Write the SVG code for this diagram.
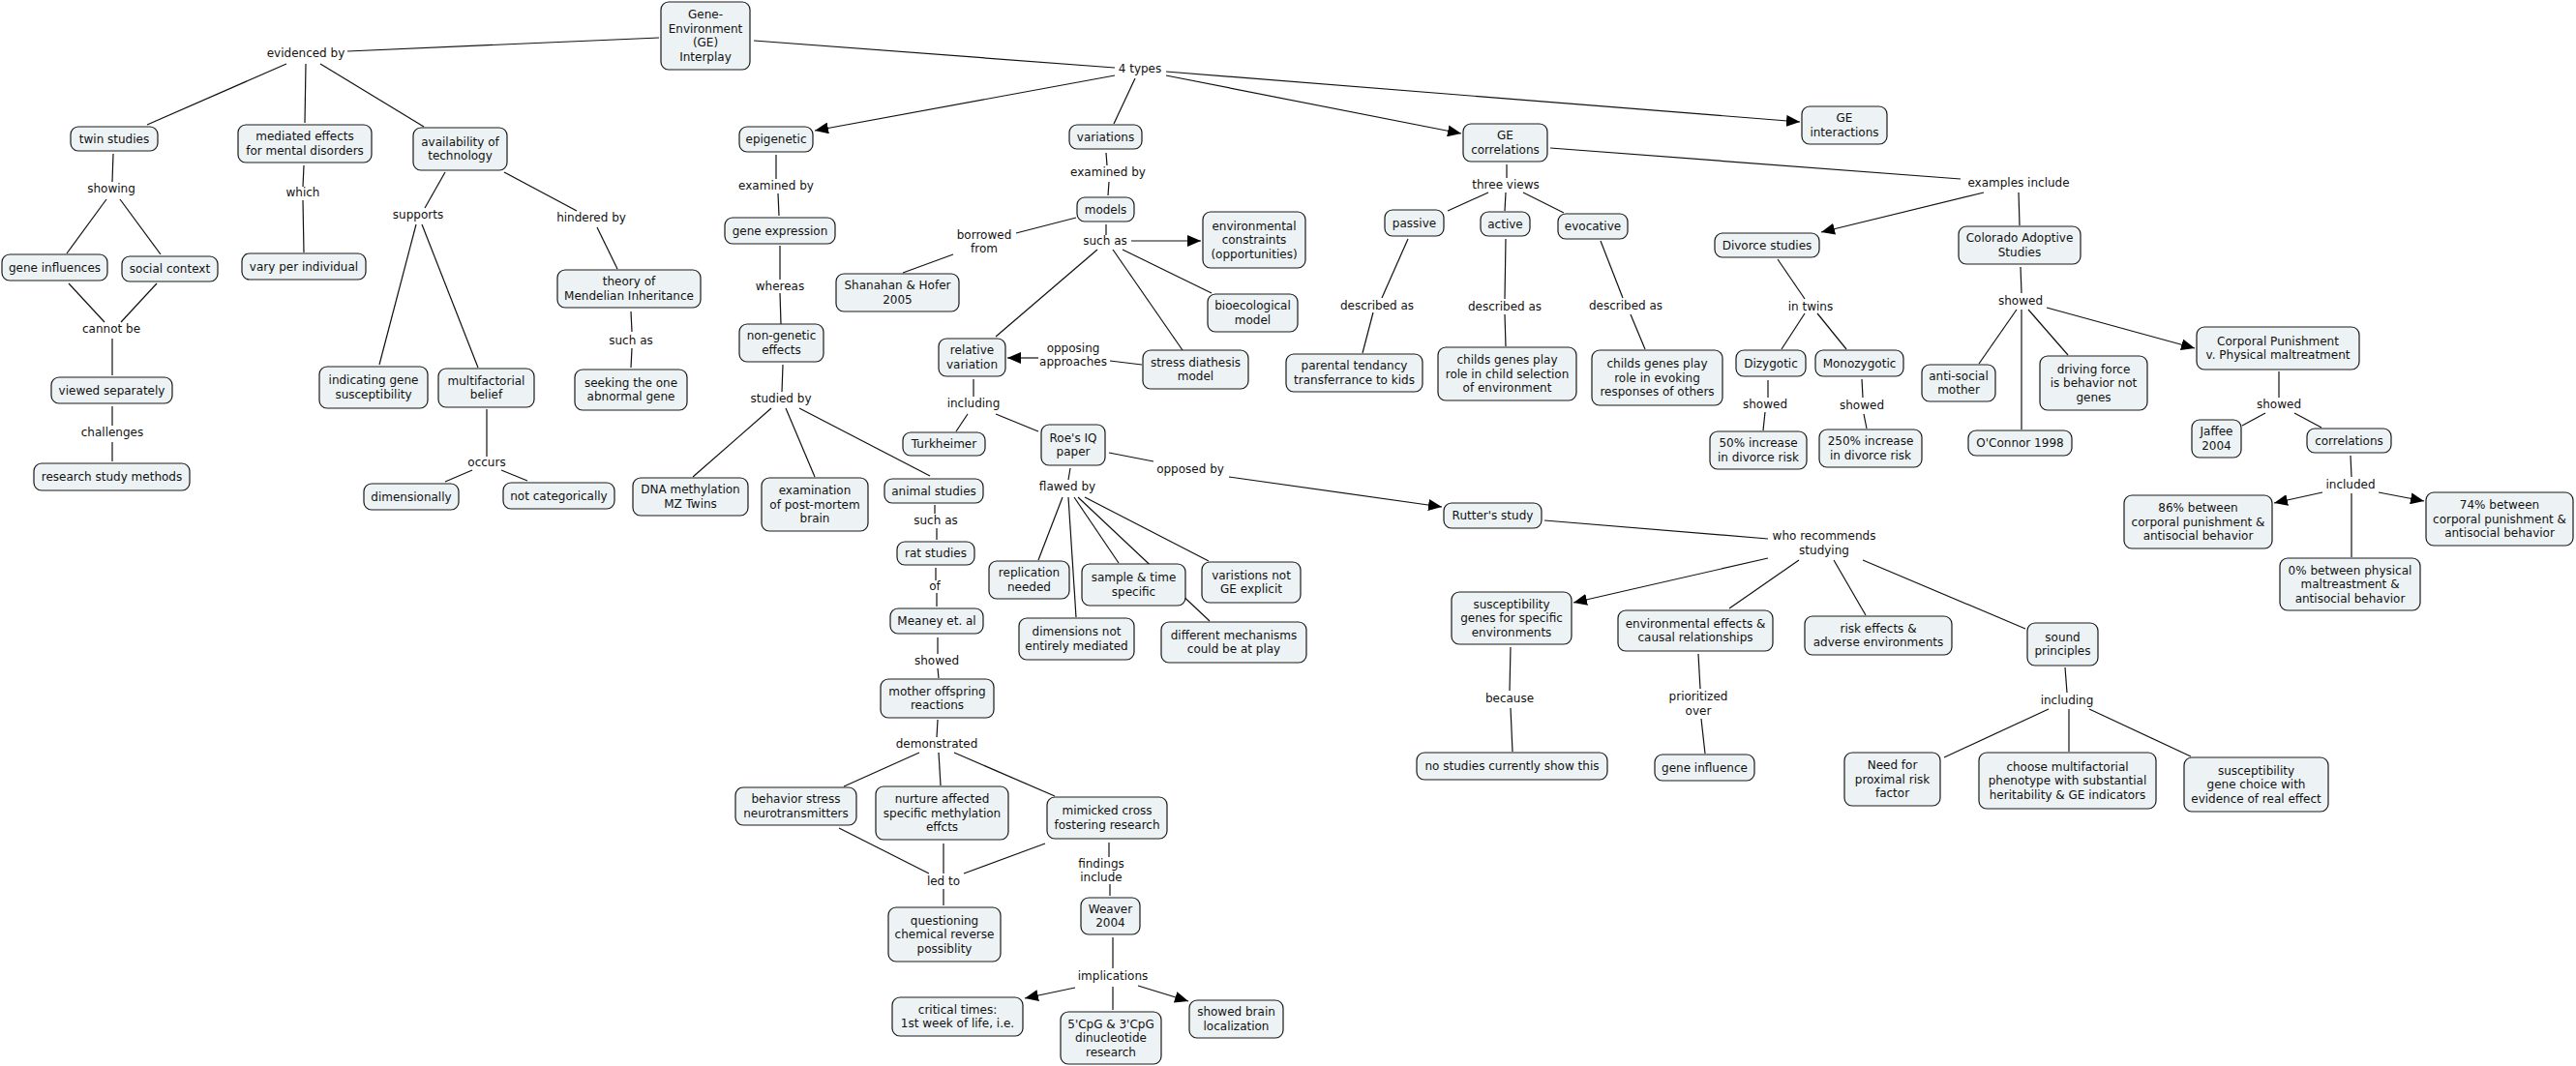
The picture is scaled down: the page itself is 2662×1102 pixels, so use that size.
<svg xmlns="http://www.w3.org/2000/svg" width="2662" height="1102" viewBox="0 0 2662 1102">
<defs>
<style>
.node rect{fill:#edf3f5;stroke:#1a1a1a;stroke-width:1.2}
text{font-family:"DejaVu Sans",Verdana,sans-serif;font-size:12px;fill:#111;text-anchor:middle;dominant-baseline:central}
#connectors line{stroke:#111;stroke-width:1.2;fill:none}
#connectors line.a{marker-end:url(#arr)}
</style>
<marker id="arr" markerUnits="userSpaceOnUse" markerWidth="14" markerHeight="12" viewBox="0 0 14 12" refX="14" refY="6" orient="auto"><path d="M0,0 L14,6 L0,12 z" fill="#000"/></marker>
</defs>
<rect width="2662" height="1102" fill="#fff"/>
<g id="connectors">
<line x1="359" y1="53" x2="681" y2="39"/>
<line x1="779" y1="42" x2="1152" y2="70"/>
<line x1="296" y1="66" x2="152" y2="129"/>
<line x1="316" y1="66" x2="315" y2="127"/>
<line x1="331" y1="66" x2="438" y2="131"/>
<line x1="117" y1="159" x2="116" y2="188"/>
<line x1="110" y1="206" x2="69" y2="262"/>
<line x1="124" y1="206" x2="166" y2="263"/>
<line x1="314" y1="171" x2="313" y2="193"/>
<line x1="313" y1="207" x2="314" y2="261"/>
<line x1="460" y1="178" x2="439" y2="215"/>
<line x1="521" y1="178" x2="596" y2="218"/>
<line x1="617" y1="235" x2="638" y2="278"/>
<line x1="652" y1="322" x2="653" y2="343"/>
<line x1="653" y1="360" x2="652" y2="380"/>
<line x1="71" y1="293" x2="108" y2="333"/>
<line x1="162" y1="293" x2="125" y2="333"/>
<line x1="116" y1="350" x2="116" y2="388"/>
<line x1="116" y1="420" x2="116" y2="440"/>
<line x1="116" y1="457" x2="116" y2="477"/>
<line x1="430" y1="232" x2="392" y2="377"/>
<line x1="436" y1="232" x2="494" y2="380"/>
<line x1="503" y1="423" x2="503" y2="472"/>
<line x1="488" y1="486" x2="460" y2="498"/>
<line x1="518" y1="486" x2="545" y2="497"/>
<line class="a" x1="1152" y1="78" x2="842" y2="135"/>
<line x1="802" y1="160" x2="802" y2="185"/>
<line x1="804" y1="200" x2="805" y2="223"/>
<line x1="806" y1="254" x2="806" y2="289"/>
<line x1="806" y1="303" x2="807" y2="335"/>
<line x1="809" y1="377" x2="808" y2="405"/>
<line x1="797" y1="422" x2="716" y2="493"/>
<line x1="812" y1="422" x2="842" y2="493"/>
<line x1="826" y1="422" x2="961" y2="492"/>
<line x1="966" y1="522" x2="966" y2="531"/>
<line x1="968" y1="546" x2="968" y2="558"/>
<line x1="967" y1="587" x2="967" y2="600"/>
<line x1="968" y1="613" x2="968" y2="627"/>
<line x1="969" y1="659" x2="969" y2="676"/>
<line x1="969" y1="691" x2="970" y2="701"/>
<line x1="969" y1="744" x2="968" y2="762"/>
<line x1="950" y1="778" x2="872" y2="813"/>
<line x1="970" y1="778" x2="972" y2="812"/>
<line x1="986" y1="778" x2="1090" y2="823"/>
<line x1="867" y1="856" x2="960" y2="903"/>
<line x1="975" y1="872" x2="975" y2="903"/>
<line x1="1080" y1="872" x2="996" y2="903"/>
<line x1="975" y1="919" x2="975" y2="936"/>
<line x1="1146" y1="871" x2="1146" y2="886"/>
<line x1="1147" y1="914" x2="1147" y2="926"/>
<line x1="1150" y1="969" x2="1150" y2="1001"/>
<line class="a" x1="1111" y1="1021" x2="1059" y2="1032"/>
<line x1="1150" y1="1020" x2="1150" y2="1044"/>
<line class="a" x1="1176" y1="1019" x2="1228" y2="1035"/>
<line x1="1173" y1="81" x2="1151" y2="128"/>
<line class="a" x1="1205" y1="78" x2="1510" y2="138"/>
<line class="a" x1="1205" y1="74" x2="1860" y2="126"/>
<line x1="1143" y1="158" x2="1144" y2="171"/>
<line x1="1146" y1="188" x2="1145" y2="202"/>
<line x1="1112" y1="225" x2="1050" y2="241"/>
<line x1="985" y1="263" x2="933" y2="282"/>
<line x1="1143" y1="232" x2="1143" y2="243"/>
<line class="a" x1="1169" y1="249" x2="1241" y2="249"/>
<line x1="1160" y1="258" x2="1252" y2="303"/>
<line x1="1134" y1="258" x2="1029" y2="348"/>
<line x1="1150" y1="258" x2="1222" y2="362"/>
<line class="a" x1="1073" y1="370" x2="1041" y2="370"/>
<line x1="1147" y1="373" x2="1180" y2="377"/>
<line x1="1006" y1="392" x2="1006" y2="410"/>
<line x1="1000" y1="428" x2="988" y2="446"/>
<line x1="1029" y1="428" x2="1073" y2="446"/>
<line x1="1146" y1="468" x2="1192" y2="477"/>
<line class="a" x1="1270" y1="493" x2="1490" y2="524"/>
<line x1="1106" y1="484" x2="1104" y2="496"/>
<line x1="1098" y1="514" x2="1073" y2="579"/>
<line x1="1104" y1="514" x2="1112" y2="638"/>
<line x1="1110" y1="514" x2="1156" y2="582"/>
<line x1="1114" y1="514" x2="1250" y2="642"/>
<line x1="1121" y1="514" x2="1249" y2="580"/>
<line x1="1596" y1="538" x2="1827" y2="557"/>
<line class="a" x1="1827" y1="577" x2="1626" y2="623"/>
<line x1="1859" y1="579" x2="1787" y2="629"/>
<line x1="1895" y1="579" x2="1928" y2="636"/>
<line x1="1925" y1="579" x2="2093" y2="650"/>
<line x1="1561" y1="669" x2="1560" y2="714"/>
<line x1="1561" y1="732" x2="1563" y2="777"/>
<line x1="1755" y1="676" x2="1757" y2="712"/>
<line x1="1758" y1="743" x2="1762" y2="779"/>
<line x1="2134" y1="690" x2="2136" y2="716"/>
<line x1="2117" y1="733" x2="2009" y2="783"/>
<line x1="2138" y1="733" x2="2138" y2="777"/>
<line x1="2159" y1="733" x2="2264" y2="782"/>
<line x1="1557" y1="170" x2="1557" y2="184"/>
<line x1="1538" y1="199" x2="1496" y2="218"/>
<line x1="1556" y1="199" x2="1555" y2="218"/>
<line x1="1574" y1="199" x2="1616" y2="220"/>
<line x1="1455" y1="247" x2="1428" y2="308"/>
<line x1="1419" y1="323" x2="1408" y2="365"/>
<line x1="1556" y1="247" x2="1555" y2="309"/>
<line x1="1555" y1="325" x2="1556" y2="358"/>
<line x1="1654" y1="249" x2="1677" y2="308"/>
<line x1="1685" y1="325" x2="1700" y2="361"/>
<line x1="1602" y1="153" x2="2026" y2="185"/>
<line class="a" x1="2050" y1="199" x2="1882" y2="240"/>
<line x1="2086" y1="199" x2="2087" y2="233"/>
<line x1="1837" y1="268" x2="1865" y2="309"/>
<line x1="1865" y1="324" x2="1841" y2="361"/>
<line x1="1878" y1="324" x2="1908" y2="361"/>
<line x1="1827" y1="393" x2="1827" y2="411"/>
<line x1="1824" y1="426" x2="1822" y2="445"/>
<line x1="1924" y1="392" x2="1925" y2="411"/>
<line x1="1926" y1="428" x2="1929" y2="443"/>
<line x1="2088" y1="276" x2="2089" y2="303"/>
<line class="a" x1="2115" y1="318" x2="2268" y2="360"/>
<line x1="2084" y1="320" x2="2045" y2="376"/>
<line x1="2089" y1="320" x2="2089" y2="444"/>
<line x1="2096" y1="320" x2="2137" y2="367"/>
<line x1="2355" y1="384" x2="2355" y2="411"/>
<line x1="2341" y1="427" x2="2317" y2="440"/>
<line x1="2371" y1="427" x2="2399" y2="442"/>
<line x1="2429" y1="471" x2="2430" y2="493"/>
<line class="a" x1="2400" y1="509" x2="2350" y2="520"/>
<line class="a" x1="2458" y1="509" x2="2505" y2="518"/>
<line x1="2430" y1="510" x2="2430" y2="576"/>
</g>
<g id="links">
<text x="316" y="55">evidenced by</text>
<text x="115" y="195">showing</text>
<text x="313" y="199">which</text>
<text x="432" y="222">supports</text>
<text x="611" y="225">hindered by</text>
<text x="115" y="340">cannot be</text>
<text x="116" y="447">challenges</text>
<text x="503" y="478">occurs</text>
<text x="652" y="352">such as</text>
<text x="802" y="192">examined by</text>
<text x="806" y="296">whereas</text>
<text x="807" y="412">studied by</text>
<text x="967" y="538">such as</text>
<text x="966" y="606">of</text>
<text x="968" y="683">showed</text>
<text x="968" y="769">demonstrated</text>
<text x="975" y="911">led to</text>
<text x="1138" y="893">findings</text>
<text x="1138" y="907">include</text>
<text x="1150" y="1009">implications</text>
<text x="1178" y="71">4 types</text>
<text x="1145" y="178">examined by</text>
<text x="1017" y="243">borrowed</text>
<text x="1017" y="257">from</text>
<text x="1142" y="249">such as</text>
<text x="1109" y="360">opposing</text>
<text x="1109" y="374">approaches</text>
<text x="1006" y="417">including</text>
<text x="1103" y="503">flawed by</text>
<text x="1230" y="485">opposed by</text>
<text x="1556" y="191">three views</text>
<text x="1423" y="316">described as</text>
<text x="1555" y="317">described as</text>
<text x="1680" y="316">described as</text>
<text x="2086" y="189">examples include</text>
<text x="1871" y="317">in twins</text>
<text x="2088" y="311">showed</text>
<text x="1824" y="418">showed</text>
<text x="1924" y="419">showed</text>
<text x="2355" y="418">showed</text>
<text x="2429" y="501">included</text>
<text x="1885" y="554">who recommends</text>
<text x="1885" y="569">studying</text>
<text x="1560" y="722">because</text>
<text x="1755" y="720">prioritized</text>
<text x="1755" y="735">over</text>
<text x="2136" y="724">including</text>
</g>
<g id="n-ge" class="node"><rect x="683" y="2" width="92" height="70" rx="8"/><text><tspan x="729" y="15">Gene-</tspan><tspan x="729" y="29.5">Environment</tspan><tspan x="729" y="44">(GE)</tspan><tspan x="729" y="58.5">Interplay</tspan></text></g>
<g id="n-twin" class="node"><rect x="73" y="131" width="90" height="25" rx="8"/><text x="118" y="143.5">twin studies</text></g>
<g id="n-mediated" class="node"><rect x="246" y="129" width="138" height="39" rx="8"/><text><tspan x="315" y="141.25">mediated effects</tspan><tspan x="315" y="155.75">for mental disorders</tspan></text></g>
<g id="n-avail" class="node"><rect x="427" y="132" width="97" height="44" rx="8"/><text><tspan x="475.5" y="146.75">availability of</tspan><tspan x="475.5" y="161.25">technology</tspan></text></g>
<g id="n-geneinf" class="node"><rect x="2" y="263" width="109" height="27" rx="8"/><text x="56.5" y="276.5">gene influences</text></g>
<g id="n-social" class="node"><rect x="126" y="265" width="99" height="26" rx="8"/><text x="175.5" y="278">social context</text></g>
<g id="n-vary" class="node"><rect x="250" y="262" width="128" height="27" rx="8"/><text x="314" y="275.5">vary per individual</text></g>
<g id="n-viewed" class="node"><rect x="53" y="390" width="125" height="27" rx="8"/><text x="115.5" y="403.5">viewed separately</text></g>
<g id="n-research" class="node"><rect x="35" y="479" width="161" height="28" rx="8"/><text x="115.5" y="493">research study methods</text></g>
<g id="n-indicating" class="node"><rect x="330" y="379" width="112" height="43" rx="8"/><text><tspan x="386" y="393.25">indicating gene</tspan><tspan x="386" y="407.75">susceptibility</tspan></text></g>
<g id="n-multi" class="node"><rect x="453" y="381" width="99" height="40" rx="8"/><text><tspan x="502.5" y="393.75">multifactorial</tspan><tspan x="502.5" y="408.25">belief</tspan></text></g>
<g id="n-dim" class="node"><rect x="376" y="500" width="98" height="27" rx="8"/><text x="425" y="513.5">dimensionally</text></g>
<g id="n-notcat" class="node"><rect x="520" y="499" width="115" height="27" rx="8"/><text x="577.5" y="512.5">not categorically</text></g>
<g id="n-theory" class="node"><rect x="576" y="279" width="148" height="39" rx="8"/><text><tspan x="650" y="291.25">theory of</tspan><tspan x="650" y="305.75">Mendelian Inheritance</tspan></text></g>
<g id="n-seeking" class="node"><rect x="594" y="382" width="116" height="42" rx="8"/><text><tspan x="652" y="395.75">seeking the one</tspan><tspan x="652" y="410.25">abnormal gene</tspan></text></g>
<g id="n-epi" class="node"><rect x="764" y="131" width="76" height="26" rx="8"/><text x="802" y="144">epigenetic</text></g>
<g id="n-geneexp" class="node"><rect x="749" y="225" width="114" height="27" rx="8"/><text x="806" y="238.5">gene expression</text></g>
<g id="n-nongen" class="node"><rect x="764" y="335" width="87" height="39" rx="8"/><text><tspan x="807.5" y="347.25">non-genetic</tspan><tspan x="807.5" y="361.75">effects</tspan></text></g>
<g id="n-dna" class="node"><rect x="654" y="494" width="119" height="39" rx="8"/><text><tspan x="713.5" y="506.25">DNA methylation</tspan><tspan x="713.5" y="520.75">MZ Twins</tspan></text></g>
<g id="n-exam" class="node"><rect x="787" y="494" width="110" height="55" rx="8"/><text><tspan x="842" y="507">examination</tspan><tspan x="842" y="521.5">of post-mortem</tspan><tspan x="842" y="536">brain</tspan></text></g>
<g id="n-animal" class="node"><rect x="914" y="495" width="102" height="25" rx="8"/><text x="965" y="507.5">animal studies</text></g>
<g id="n-rat" class="node"><rect x="927" y="560" width="80" height="24" rx="8"/><text x="967" y="572">rat studies</text></g>
<g id="n-meaney" class="node"><rect x="920" y="629" width="96" height="26" rx="8"/><text x="968" y="642">Meaney et. al</text></g>
<g id="n-mother" class="node"><rect x="910" y="702" width="117" height="40" rx="8"/><text><tspan x="968.5" y="714.75">mother offspring</tspan><tspan x="968.5" y="729.25">reactions</tspan></text></g>
<g id="n-behavior" class="node"><rect x="760" y="814" width="125" height="39" rx="8"/><text><tspan x="822.5" y="826.25">behavior stress</tspan><tspan x="822.5" y="840.75">neurotransmitters</tspan></text></g>
<g id="n-nurture" class="node"><rect x="905" y="813" width="137" height="55" rx="8"/><text><tspan x="973.5" y="826">nurture affected</tspan><tspan x="973.5" y="840.5">specific methylation</tspan><tspan x="973.5" y="855">effcts</tspan></text></g>
<g id="n-mimicked" class="node"><rect x="1082" y="824" width="124" height="43" rx="8"/><text><tspan x="1144" y="838.25">mimicked cross</tspan><tspan x="1144" y="852.75">fostering research</tspan></text></g>
<g id="n-question" class="node"><rect x="918" y="938" width="116" height="56" rx="8"/><text><tspan x="976" y="951.5">questioning</tspan><tspan x="976" y="966">chemical reverse</tspan><tspan x="976" y="980.5">possiblity</tspan></text></g>
<g id="n-weaver" class="node"><rect x="1117" y="928" width="61" height="38" rx="8"/><text><tspan x="1147.5" y="939.75">Weaver</tspan><tspan x="1147.5" y="954.25">2004</tspan></text></g>
<g id="n-critical" class="node"><rect x="922" y="1031" width="135" height="40" rx="8"/><text><tspan x="989.5" y="1043.75">critical times:</tspan><tspan x="989.5" y="1058.25">1st week of life, i.e.</tspan></text></g>
<g id="n-cpg" class="node"><rect x="1096" y="1046" width="104" height="54" rx="8"/><text><tspan x="1148" y="1058.5">5'CpG &amp; 3'CpG</tspan><tspan x="1148" y="1073">dinucleotide</tspan><tspan x="1148" y="1087.5">research</tspan></text></g>
<g id="n-brain" class="node"><rect x="1229" y="1034" width="97" height="39" rx="8"/><text><tspan x="1277.5" y="1046.25">showed brain</tspan><tspan x="1277.5" y="1060.75">localization</tspan></text></g>
<g id="n-variations" class="node"><rect x="1105" y="129" width="75" height="25" rx="8"/><text x="1142.5" y="141.5">variations</text></g>
<g id="n-models" class="node"><rect x="1113" y="204" width="59" height="25" rx="8"/><text x="1142.5" y="216.5">models</text></g>
<g id="n-shanahan" class="node"><rect x="864" y="283" width="127" height="39" rx="8"/><text><tspan x="927.5" y="295.25">Shanahan &amp; Hofer</tspan><tspan x="927.5" y="309.75">2005</tspan></text></g>
<g id="n-envcon" class="node"><rect x="1243" y="219" width="106" height="58" rx="8"/><text><tspan x="1296" y="233.5">environmental</tspan><tspan x="1296" y="248">constraints</tspan><tspan x="1296" y="262.5">(opportunities)</tspan></text></g>
<g id="n-bioeco" class="node"><rect x="1248" y="304" width="93" height="39" rx="8"/><text><tspan x="1294.5" y="316.25">bioecological</tspan><tspan x="1294.5" y="330.75">model</tspan></text></g>
<g id="n-relative" class="node"><rect x="970" y="350" width="69" height="39" rx="8"/><text><tspan x="1004.5" y="362.25">relative</tspan><tspan x="1004.5" y="376.75">variation</tspan></text></g>
<g id="n-stress" class="node"><rect x="1181" y="362" width="109" height="40" rx="8"/><text><tspan x="1235.5" y="374.75">stress diathesis</tspan><tspan x="1235.5" y="389.25">model</tspan></text></g>
<g id="n-turk" class="node"><rect x="933" y="447" width="85" height="24" rx="8"/><text x="975.5" y="459">Turkheimer</text></g>
<g id="n-roe" class="node"><rect x="1076" y="439" width="66" height="42" rx="8"/><text><tspan x="1109" y="452.75">Roe's IQ</tspan><tspan x="1109" y="467.25">paper</tspan></text></g>
<g id="n-replic" class="node"><rect x="1022" y="580" width="83" height="39" rx="8"/><text><tspan x="1063.5" y="592.25">replication</tspan><tspan x="1063.5" y="606.75">needed</tspan></text></g>
<g id="n-sample" class="node"><rect x="1118" y="583" width="107" height="43" rx="8"/><text><tspan x="1171.5" y="597.25">sample &amp; time</tspan><tspan x="1171.5" y="611.75">specific</tspan></text></g>
<g id="n-varist" class="node"><rect x="1242" y="581" width="102" height="42" rx="8"/><text><tspan x="1293" y="594.75">varistions not</tspan><tspan x="1293" y="609.25">GE explicit</tspan></text></g>
<g id="n-dims" class="node"><rect x="1053" y="639" width="119" height="43" rx="8"/><text><tspan x="1112.5" y="653.25">dimensions not</tspan><tspan x="1112.5" y="667.75">entirely mediated</tspan></text></g>
<g id="n-diffmech" class="node"><rect x="1200" y="643" width="150" height="42" rx="8"/><text><tspan x="1275" y="656.75">different mechanisms</tspan><tspan x="1275" y="671.25">could be at play</tspan></text></g>
<g id="n-rutter" class="node"><rect x="1492" y="520" width="101" height="26" rx="8"/><text x="1542.5" y="533">Rutter's study</text></g>
<g id="n-gecorr" class="node"><rect x="1512" y="128" width="87" height="39" rx="8"/><text><tspan x="1555.5" y="140.25">GE</tspan><tspan x="1555.5" y="154.75">correlations</tspan></text></g>
<g id="n-passive" class="node"><rect x="1431" y="217" width="61" height="27" rx="8"/><text x="1461.5" y="230.5">passive</text></g>
<g id="n-active" class="node"><rect x="1530" y="219" width="51" height="25" rx="8"/><text x="1555.5" y="231.5">active</text></g>
<g id="n-evoc" class="node"><rect x="1610" y="221" width="72" height="26" rx="8"/><text x="1646" y="234">evocative</text></g>
<g id="n-parental" class="node"><rect x="1329" y="366" width="141" height="39" rx="8"/><text><tspan x="1399.5" y="378.25">parental tendancy</tspan><tspan x="1399.5" y="392.75">transferrance to kids</tspan></text></g>
<g id="n-childsel" class="node"><rect x="1486" y="359" width="143" height="55" rx="8"/><text><tspan x="1557.5" y="372">childs genes play</tspan><tspan x="1557.5" y="386.5">role in child selection</tspan><tspan x="1557.5" y="401">of environment</tspan></text></g>
<g id="n-childevo" class="node"><rect x="1645" y="362" width="135" height="57" rx="8"/><text><tspan x="1712.5" y="376">childs genes play</tspan><tspan x="1712.5" y="390.5">role in evoking</tspan><tspan x="1712.5" y="405">responses of others</tspan></text></g>
<g id="n-geint" class="node"><rect x="1862" y="110" width="88" height="39" rx="8"/><text><tspan x="1906" y="122.25">GE</tspan><tspan x="1906" y="136.75">interactions</tspan></text></g>
<g id="n-divorce" class="node"><rect x="1772" y="241" width="108" height="25" rx="8"/><text x="1826" y="253.5">Divorce studies</text></g>
<g id="n-colorado" class="node"><rect x="2024" y="234" width="126" height="39" rx="8"/><text><tspan x="2087" y="246.25">Colorado Adoptive</tspan><tspan x="2087" y="260.75">Studies</tspan></text></g>
<g id="n-dizy" class="node"><rect x="1794" y="362" width="72" height="27" rx="8"/><text x="1830" y="375.5">Dizygotic</text></g>
<g id="n-mono" class="node"><rect x="1876" y="362" width="91" height="27" rx="8"/><text x="1921.5" y="375.5">Monozygotic</text></g>
<g id="n-50" class="node"><rect x="1767" y="446" width="100" height="39" rx="8"/><text><tspan x="1817" y="458.25">50% increase</tspan><tspan x="1817" y="472.75">in divorce risk</tspan></text></g>
<g id="n-250" class="node"><rect x="1880" y="444" width="106" height="39" rx="8"/><text><tspan x="1933" y="456.25">250% increase</tspan><tspan x="1933" y="470.75">in divorce risk</tspan></text></g>
<g id="n-antisocial" class="node"><rect x="1986" y="377" width="76" height="38" rx="8"/><text><tspan x="2024" y="388.75">anti-social</tspan><tspan x="2024" y="403.25">mother</tspan></text></g>
<g id="n-oconnor" class="node"><rect x="2034" y="445" width="107" height="26" rx="8"/><text x="2087.5" y="458">O'Connor 1998</text></g>
<g id="n-driving" class="node"><rect x="2108" y="368" width="111" height="56" rx="8"/><text><tspan x="2163.5" y="381.5">driving force</tspan><tspan x="2163.5" y="396">is behavior not</tspan><tspan x="2163.5" y="410.5">genes</tspan></text></g>
<g id="n-corporal" class="node"><rect x="2270" y="338" width="168" height="44" rx="8"/><text><tspan x="2354" y="352.75">Corporal Punishment</tspan><tspan x="2354" y="367.25">v. Physical maltreatment</tspan></text></g>
<g id="n-jaffee" class="node"><rect x="2265" y="434" width="51" height="39" rx="8"/><text><tspan x="2290.5" y="446.25">Jaffee</tspan><tspan x="2290.5" y="460.75">2004</tspan></text></g>
<g id="n-corrs" class="node"><rect x="2384" y="443" width="87" height="25" rx="8"/><text x="2427.5" y="455.5">correlations</text></g>
<g id="n-86" class="node"><rect x="2195" y="512" width="153" height="55" rx="8"/><text><tspan x="2271.5" y="525">86% between</tspan><tspan x="2271.5" y="539.5">corporal punishment &amp;</tspan><tspan x="2271.5" y="554">antisocial behavior</tspan></text></g>
<g id="n-74" class="node"><rect x="2507" y="509" width="152" height="55" rx="8"/><text><tspan x="2583" y="522">74% between</tspan><tspan x="2583" y="536.5">corporal punishment &amp;</tspan><tspan x="2583" y="551">antisocial behavior</tspan></text></g>
<g id="n-0" class="node"><rect x="2356" y="577" width="145" height="54" rx="8"/><text><tspan x="2428.5" y="589.5">0% between physical</tspan><tspan x="2428.5" y="604">maltreastment &amp;</tspan><tspan x="2428.5" y="618.5">antisocial behavior</tspan></text></g>
<g id="n-suscgenes" class="node"><rect x="1500" y="612" width="124" height="54" rx="8"/><text><tspan x="1562" y="624.5">susceptibility</tspan><tspan x="1562" y="639">genes for specific</tspan><tspan x="1562" y="653.5">environments</tspan></text></g>
<g id="n-enveff" class="node"><rect x="1672" y="631" width="160" height="42" rx="8"/><text><tspan x="1752" y="644.75">environmental effects &amp;</tspan><tspan x="1752" y="659.25">causal relationships</tspan></text></g>
<g id="n-risk" class="node"><rect x="1865" y="637" width="152" height="40" rx="8"/><text><tspan x="1941" y="649.75">risk effects &amp;</tspan><tspan x="1941" y="664.25">adverse environments</tspan></text></g>
<g id="n-sound" class="node"><rect x="2095" y="644" width="73" height="44" rx="8"/><text><tspan x="2131.5" y="658.75">sound</tspan><tspan x="2131.5" y="673.25">principles</tspan></text></g>
<g id="n-nostudies" class="node"><rect x="1464" y="778" width="197" height="28" rx="8"/><text x="1562.5" y="792">no studies currently show this</text></g>
<g id="n-geneinfl" class="node"><rect x="1710" y="780" width="103" height="27" rx="8"/><text x="1761.5" y="793.5">gene influence</text></g>
<g id="n-need" class="node"><rect x="1906" y="778" width="99" height="55" rx="8"/><text><tspan x="1955.5" y="791">Need for</tspan><tspan x="1955.5" y="805.5">proximal risk</tspan><tspan x="1955.5" y="820">factor</tspan></text></g>
<g id="n-choose" class="node"><rect x="2045" y="778" width="183" height="58" rx="8"/><text><tspan x="2136.5" y="792.5">choose multifactorial</tspan><tspan x="2136.5" y="807">phenotype with substantial</tspan><tspan x="2136.5" y="821.5">heritability &amp; GE indicators</tspan></text></g>
<g id="n-suscchoice" class="node"><rect x="2257" y="783" width="149" height="56" rx="8"/><text><tspan x="2331.5" y="796.5">susceptibility</tspan><tspan x="2331.5" y="811">gene choice with</tspan><tspan x="2331.5" y="825.5">evidence of real effect</tspan></text></g>
</svg>
